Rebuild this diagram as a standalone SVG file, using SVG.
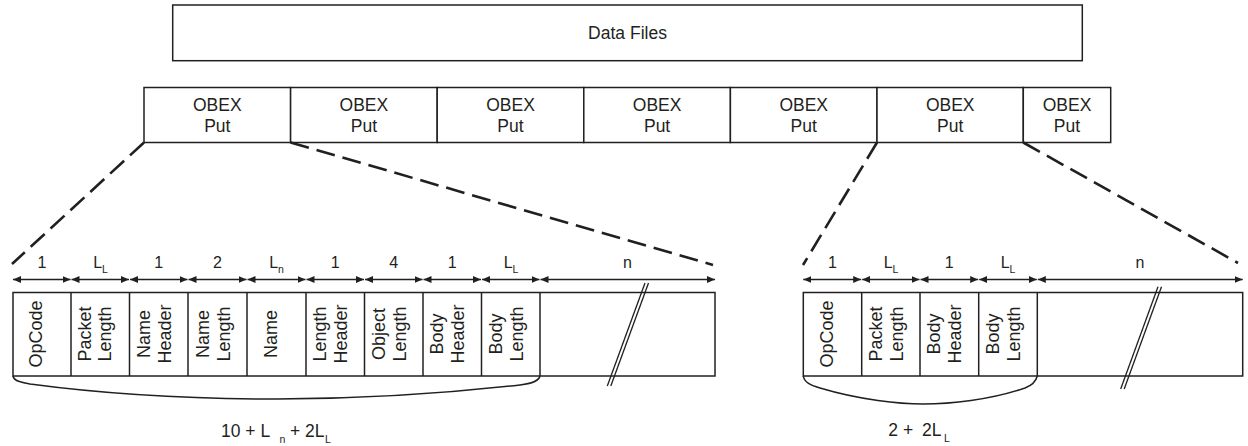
<svg xmlns="http://www.w3.org/2000/svg" width="1248" height="446" viewBox="0 0 1248 446">
<style>
  .box { fill: #ffffff; stroke: #231f20; stroke-width: 1.5; }
  .t { font-family: "Liberation Sans", Arial, sans-serif; fill: #231f20; }
  .lbl { font-size: 17.5px; text-anchor: middle; }
  .cell { font-size: 18px; text-anchor: middle; }
  .dimt { font-size: 16px; text-anchor: middle; }
  .sub { font-size: 10.5px; }
  .dash { fill: none; stroke: #231f20; stroke-width: 2.6; stroke-dasharray: 19 8; }
  .dim { fill: none; stroke: #231f20; stroke-width: 1.5; marker-start: url(#ah); marker-end: url(#ah); }
  .brk { fill: none; stroke: #231f20; stroke-width: 1.3; }
  .brace { fill: none; stroke: #231f20; stroke-width: 1.5; }
</style>
<defs>
  <marker id="ah" viewBox="0 0 8 7" refX="8" refY="3.5" markerWidth="8" markerHeight="7" markerUnits="userSpaceOnUse" orient="auto-start-reverse">
    <path d="M0,0 L8,3.5 L0,7 z" fill="#231f20"/>
  </marker>
</defs>
<rect width="1248" height="446" fill="#ffffff"/>

<g id="data-files">
  <rect class="box" x="172.7" y="5" width="909.6" height="55.7"/>
  <text class="t lbl" x="627.5" y="39">Data Files</text>
</g>

<g id="obex-1"><rect class="box" x="144" y="87.5" width="146.6" height="55"/><text class="t lbl" x="217.3" y="111">OBEX</text><text class="t lbl" x="217.3" y="131.5">Put</text></g>
<g id="obex-2"><rect class="box" x="290.6" y="87.5" width="146.6" height="55"/><text class="t lbl" x="363.9" y="111">OBEX</text><text class="t lbl" x="363.9" y="131.5">Put</text></g>
<g id="obex-3"><rect class="box" x="437.2" y="87.5" width="146.6" height="55"/><text class="t lbl" x="510.5" y="111">OBEX</text><text class="t lbl" x="510.5" y="131.5">Put</text></g>
<g id="obex-4"><rect class="box" x="583.8" y="87.5" width="146.6" height="55"/><text class="t lbl" x="657.1" y="111">OBEX</text><text class="t lbl" x="657.1" y="131.5">Put</text></g>
<g id="obex-5"><rect class="box" x="730.4" y="87.5" width="146.6" height="55"/><text class="t lbl" x="803.7" y="111">OBEX</text><text class="t lbl" x="803.7" y="131.5">Put</text></g>
<g id="obex-6"><rect class="box" x="877" y="87.5" width="146.3" height="55"/><text class="t lbl" x="950.2" y="111">OBEX</text><text class="t lbl" x="950.2" y="131.5">Put</text></g>
<g id="obex-7"><rect class="box" x="1023.3" y="87.5" width="87.4" height="55"/><text class="t lbl" x="1067" y="111">OBEX</text><text class="t lbl" x="1067" y="131.5">Put</text></g>

<g id="connectors">
  <line class="dash" x1="144" y1="142.5" x2="12" y2="264"/>
  <line class="dash" x1="290.6" y1="142.5" x2="713" y2="265"/>
  <line class="dash" x1="877" y1="142.5" x2="803" y2="265"/>
  <line class="dash" x1="1023.3" y1="142.5" x2="1238" y2="263"/>
</g>

<g id="packet-left">
  <rect class="box" x="13" y="292.5" width="702" height="83.5"/>
  <g stroke="#231f20" stroke-width="1.5">
    <line x1="71" y1="292.5" x2="71" y2="376"/>
    <line x1="129.5" y1="292.5" x2="129.5" y2="376"/>
    <line x1="188" y1="292.5" x2="188" y2="376"/>
    <line x1="247" y1="292.5" x2="247" y2="376"/>
    <line x1="306" y1="292.5" x2="306" y2="376"/>
    <line x1="364.5" y1="292.5" x2="364.5" y2="376"/>
    <line x1="423" y1="292.5" x2="423" y2="376"/>
    <line x1="481.5" y1="292.5" x2="481.5" y2="376"/>
    <line x1="540" y1="292.5" x2="540" y2="376"/>
  </g>
  <text class="t cell" transform="translate(42,334) rotate(-90)">OpCode</text>
  <text class="t cell" transform="translate(91,334) rotate(-90)">Packet</text>
  <text class="t cell" transform="translate(111,334) rotate(-90)">Length</text>
  <text class="t cell" transform="translate(150,334) rotate(-90)">Name</text>
  <text class="t cell" transform="translate(171,334) rotate(-90)">Header</text>
  <text class="t cell" transform="translate(208.5,334) rotate(-90)">Name</text>
  <text class="t cell" transform="translate(229.5,334) rotate(-90)">Length</text>
  <text class="t cell" transform="translate(276.5,334) rotate(-90)">Name</text>
  <text class="t cell" transform="translate(326,334) rotate(-90)">Length</text>
  <text class="t cell" transform="translate(347,334) rotate(-90)">Header</text>
  <text class="t cell" transform="translate(384.5,334) rotate(-90)">Object</text>
  <text class="t cell" transform="translate(405.5,334) rotate(-90)">Length</text>
  <text class="t cell" transform="translate(443,334) rotate(-90)">Body</text>
  <text class="t cell" transform="translate(464,334) rotate(-90)">Header</text>
  <text class="t cell" transform="translate(501.5,334) rotate(-90)">Body</text>
  <text class="t cell" transform="translate(522.5,334) rotate(-90)">Length</text>
  <line class="brk" x1="645" y1="283" x2="607.3" y2="386"/>
  <line class="brk" x1="648.5" y1="283" x2="610.8" y2="386"/>
  <path class="brace" d="M13,376 C14,381 20,382 30,384 C120,396 200,399 277,399 C360,399 450,393 520,385 C535,383 539,380 540,376"/>
  <text class="t" font-size="17.5" x="221" y="437">10 + L</text>
  <text class="t sub" x="279.5" y="443">n</text>
  <text class="t" font-size="17.5" x="290" y="437">+ 2L</text>
  <text class="t sub" x="325" y="443">L</text>
</g>

<g id="dims-left">
  <line class="dim" x1="13" y1="279.5" x2="70.5" y2="279.5"/>
  <line class="dim" x1="71.5" y1="279.5" x2="129" y2="279.5"/>
  <line class="dim" x1="130" y1="279.5" x2="187.5" y2="279.5"/>
  <line class="dim" x1="188.5" y1="279.5" x2="246.5" y2="279.5"/>
  <line class="dim" x1="247.5" y1="279.5" x2="305.5" y2="279.5"/>
  <line class="dim" x1="306.5" y1="279.5" x2="364" y2="279.5"/>
  <line class="dim" x1="365" y1="279.5" x2="422.5" y2="279.5"/>
  <line class="dim" x1="423.5" y1="279.5" x2="481" y2="279.5"/>
  <line class="dim" x1="482" y1="279.5" x2="539.5" y2="279.5"/>
  <line class="dim" x1="540.5" y1="279.5" x2="715" y2="279.5"/>
  <text class="t dimt" x="42" y="268">1</text>
  <text class="t dimt" x="100.5" y="268">L<tspan class="sub" dy="5">L</tspan></text>
  <text class="t dimt" x="158.7" y="268">1</text>
  <text class="t dimt" x="217.5" y="268">2</text>
  <text class="t dimt" x="276.5" y="268">L<tspan class="sub" dy="5">n</tspan></text>
  <text class="t dimt" x="335.2" y="268">1</text>
  <text class="t dimt" x="393.7" y="268">4</text>
  <text class="t dimt" x="452.2" y="268">1</text>
  <text class="t dimt" x="511" y="268">L<tspan class="sub" dy="5">L</tspan></text>
  <text class="t dimt" x="627.5" y="268">n</text>
</g>

<g id="packet-right">
  <rect class="box" x="803.3" y="292.5" width="439.4" height="83.5"/>
  <g stroke="#231f20" stroke-width="1.5">
    <line x1="861.7" y1="292.5" x2="861.7" y2="376"/>
    <line x1="920" y1="292.5" x2="920" y2="376"/>
    <line x1="978.7" y1="292.5" x2="978.7" y2="376"/>
    <line x1="1037.3" y1="292.5" x2="1037.3" y2="376"/>
  </g>
  <text class="t cell" transform="translate(832.5,334) rotate(-90)">OpCode</text>
  <text class="t cell" transform="translate(881.5,334) rotate(-90)">Packet</text>
  <text class="t cell" transform="translate(902.5,334) rotate(-90)">Length</text>
  <text class="t cell" transform="translate(940,334) rotate(-90)">Body</text>
  <text class="t cell" transform="translate(961,334) rotate(-90)">Header</text>
  <text class="t cell" transform="translate(998.5,334) rotate(-90)">Body</text>
  <text class="t cell" transform="translate(1019.5,334) rotate(-90)">Length</text>
  <line class="brk" x1="1158" y1="286.7" x2="1120.7" y2="389"/>
  <line class="brk" x1="1161.5" y1="286.7" x2="1124.2" y2="389"/>
  <path class="brace" d="M803.3,376 C804,382 810,385 820,388 C860,400 900,404 923,404 C950,404 990,400 1025,388 C1033,385 1036,381 1037.3,376"/>
  <text class="t" font-size="17.5" x="888.3" y="436">2 +</text>
  <text class="t" font-size="17.5" x="922" y="436">2L</text>
  <text class="t sub" x="944" y="442">L</text>
</g>

<g id="dims-right">
  <line class="dim" x1="803.3" y1="279.5" x2="861.2" y2="279.5"/>
  <line class="dim" x1="862.2" y1="279.5" x2="919.5" y2="279.5"/>
  <line class="dim" x1="920.5" y1="279.5" x2="978.2" y2="279.5"/>
  <line class="dim" x1="979.2" y1="279.5" x2="1036.8" y2="279.5"/>
  <line class="dim" x1="1037.8" y1="279.5" x2="1242.7" y2="279.5"/>
  <text class="t dimt" x="832.5" y="268">1</text>
  <text class="t dimt" x="891" y="268">L<tspan class="sub" dy="5">L</tspan></text>
  <text class="t dimt" x="949.3" y="268">1</text>
  <text class="t dimt" x="1008" y="268">L<tspan class="sub" dy="5">L</tspan></text>
  <text class="t dimt" x="1140" y="268">n</text>
</g>
</svg>
